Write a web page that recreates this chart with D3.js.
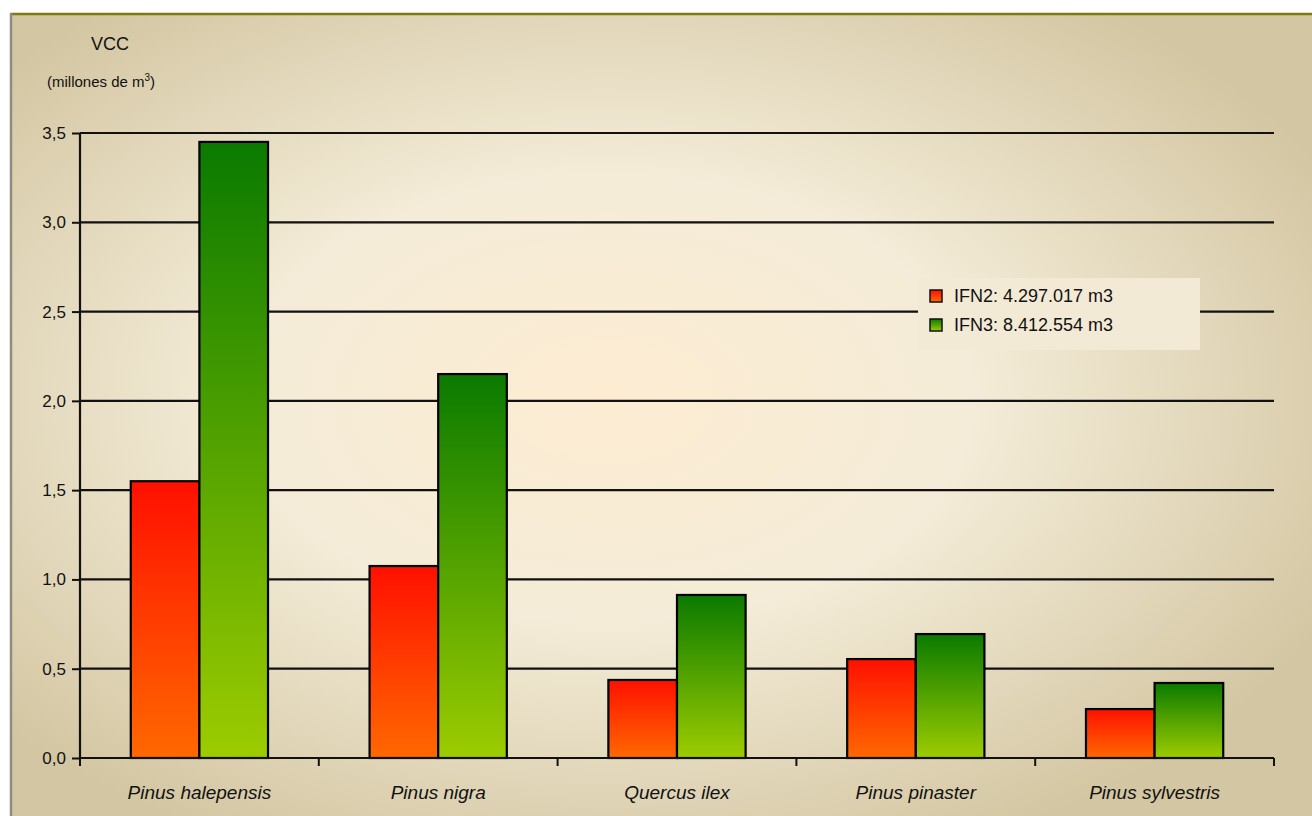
<!DOCTYPE html>
<html>
<head>
<meta charset="utf-8">
<script src="https://cdn.jsdelivr.net/npm/d3@7"></script>
<style>
  html, body { margin: 0; padding: 0; background: #fff; }
  svg { display: block; }
</style>
</head>
<body>
<svg id="chart" width="1312" height="816"></svg>
<script>
// species and volumes (millones de m3)
const species = ["Pinus halepensis", "Pinus nigra", "Quercus ilex", "Pinus pinaster", "Pinus sylvestris"];
const ifn2 = [1.55, 1.075, 0.437, 0.554, 0.274];
const ifn3 = [3.45, 2.15, 0.913, 0.694, 0.42];
const seriesNames = ["IFN2: 4.297.017 m3", "IFN3: 8.412.554 m3"];
const yTicks = [0, 0.5, 1, 1.5, 2, 2.5, 3, 3.5];

const svg = d3.select("#chart");
const margin = {top: 133, right: 38, bottom: 58, left: 80};
const width  = +svg.attr("width") - margin.left - margin.right;
const height = +svg.attr("height") - margin.top - margin.bottom;

const defs = svg.append("defs");

// background radial gradient
const bg = defs.append("radialGradient").attr("id", "bgGrad")
    .attr("cx", "46%").attr("cy", "48%").attr("r", "62%")
    .attr("fx", "46%").attr("fy", "48%");
bg.append("stop").attr("offset", "0%").attr("stop-color", "#fdecd2");
bg.append("stop").attr("offset", "45%").attr("stop-color", "#f4ecd8");
bg.append("stop").attr("offset", "100%").attr("stop-color", "#d3c6a2");

function barGrad(id, top, bottom){
    const g = defs.append("linearGradient").attr("id", id)
        .attr("x1", 0).attr("y1", 0).attr("x2", 0).attr("y2", 1);
    g.append("stop").attr("offset", "0%").attr("stop-color", top);
    g.append("stop").attr("offset", "100%").attr("stop-color", bottom);
}
barGrad("redGrad", "#ff1000", "#ff6800");
barGrad("greenGrad", "#0a7a00", "#9dcc00");

// frame
svg.append("rect").attr("x", 10).attr("y", 13).attr("width", 1302).attr("height", 803)
    .attr("fill", "url(#bgGrad)");
svg.append("line").attr("x1", 10).attr("x2", 1312).attr("y1", 14).attr("y2", 14)
    .attr("stroke", "#7d7a12").attr("stroke-width", 2.5);
svg.append("line").attr("x1", 11).attr("x2", 11).attr("y1", 13).attr("y2", 816)
    .attr("stroke", "#8f8c80").attr("stroke-width", 2.5);

const g = svg.append("g")
    .attr("transform", "translate(" + margin.left + "," + margin.top + ")");

const y = d3.scaleLinear().domain([0, 3.5]).range([height, 0]);
const x0 = d3.scaleBand().domain(species).range([0, width]).paddingInner(0).paddingOuter(0);
const x1 = d3.scaleBand().domain([0, 1]).range([0, x0.bandwidth()]).paddingInner(0).paddingOuter(0.74);

// gridlines
g.selectAll(".grid").data(yTicks.slice(1)).enter().append("line")
    .attr("x1", 0).attr("x2", width)
    .attr("y1", d => y(d)).attr("y2", d => y(d))
    .attr("stroke", "#111").attr("stroke-width", 2.2);

// bars
const groups = g.selectAll(".grp").data(species).enter().append("g")
    .attr("transform", d => "translate(" + x0(d) + ",0)");
groups.each(function(s, i){
    const vals = [ifn2[i], ifn3[i]];
    d3.select(this).selectAll("rect").data(vals).enter().append("rect")
        .attr("x", (d, j) => x1(j))
        .attr("y", d => y(d))
        .attr("width", x1.bandwidth())
        .attr("height", d => height - y(d))
        .attr("fill", (d, j) => j === 0 ? "url(#redGrad)" : "url(#greenGrad)")
        .attr("stroke", "#000").attr("stroke-width", 2.2);
});

// y axis
const yAxis = g.append("g")
    .call(d3.axisLeft(y).tickValues(yTicks).tickSize(8).tickPadding(6)
        .tickFormat(d => d3.format(".1f")(d).replace(".", ",")));
yAxis.select(".domain").attr("d", "M0," + height + "V0").attr("stroke", "#111").attr("stroke-width", 2.2);
yAxis.selectAll(".tick line").attr("stroke", "#111").attr("stroke-width", 2);
yAxis.selectAll("text").attr("fill", "#111")
    .style("font-family", "Liberation Sans, Arial, sans-serif").style("font-size", "17px");

// x axis
const xAxis = g.append("g").attr("transform", "translate(0," + height + ")")
    .call(d3.axisBottom(x0).tickSize(0).tickPadding(28));
xAxis.select(".domain").attr("d", "M0,0H" + width).attr("stroke", "#111").attr("stroke-width", 2.2);
xAxis.selectAll("text").attr("fill", "#111")
    .style("font-family", "Liberation Sans, Arial, sans-serif").style("font-size", "19px")
    .style("font-style", "italic");
// category boundary ticks
g.selectAll(".xt").data(d3.range(species.length + 1)).enter().append("line")
    .attr("x1", d => d * x0.step()).attr("x2", d => d * x0.step())
    .attr("y1", height).attr("y2", height + 8)
    .attr("stroke", "#111").attr("stroke-width", 2);

// axis title
svg.append("text").attr("x", 110).attr("y", 50).attr("text-anchor", "middle")
    .attr("fill", "#111").style("font-family", "Liberation Sans, Arial, sans-serif")
    .style("font-size", "18px").text("VCC");
const sub = svg.append("text").attr("x", 47).attr("y", 87).attr("fill", "#111")
    .style("font-family", "Liberation Sans, Arial, sans-serif").style("font-size", "15px");
sub.append("tspan").text("(millones de m");
sub.append("tspan").attr("dy", -6).style("font-size", "10px").text("3");
sub.append("tspan").attr("dy", 6).text(")");

// legend
const legend = svg.append("g").attr("transform", "translate(918,278)");
legend.append("rect").attr("x", 0).attr("y", 0).attr("width", 282).attr("height", 72)
    .attr("fill", "#f2ead5");
const li = legend.selectAll(".li").data(seriesNames).enter().append("g")
    .attr("transform", (d, i) => "translate(12," + (10 + i * 29) + ")");
li.append("rect").attr("width", 12).attr("height", 12).attr("y", 2)
    .attr("fill", (d, i) => i === 0 ? "url(#redGrad)" : "url(#greenGrad)")
    .attr("stroke", "#111").attr("stroke-width", 1.5);
li.append("text").attr("x", 24).attr("y", 14).attr("fill", "#111")
    .style("font-family", "Liberation Sans, Arial, sans-serif").style("font-size", "18px")
    .text(d => d);
</script>
</body>
</html>
